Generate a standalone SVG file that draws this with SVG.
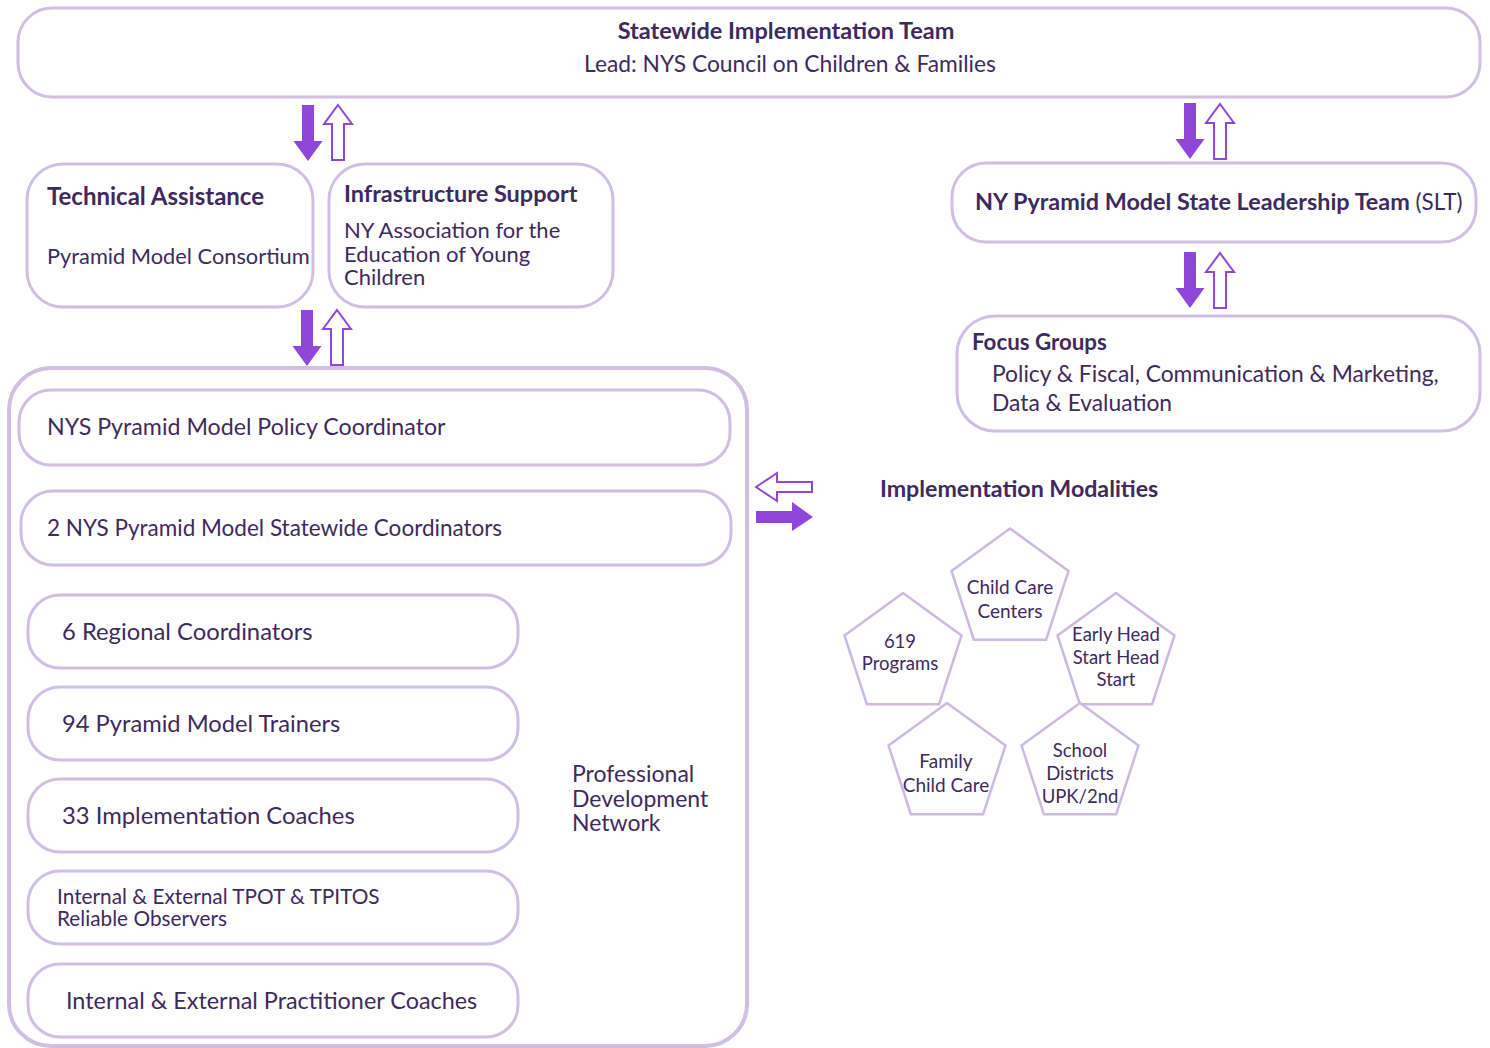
<svg xmlns="http://www.w3.org/2000/svg" xmlns:xlink="http://www.w3.org/1999/xlink" width="1490" height="1048" viewBox="0 0 1490 1048">
<style>
.box{fill:#fff;stroke:#d0bfe3;stroke-width:3}
.big{fill:#fff;stroke:#d0bfe3;stroke-width:4}
.pent{fill:#fff;stroke:#cdb9e1;stroke-width:2.5}
text{font-family:Lato,"Open Sans","Liberation Sans",sans-serif;fill:#3f2a5e}
.b{font-weight:bold;font-size:23.5px}
.r{font-size:22px}
.s{font-size:20.8px}
.p{font-size:18.5px;text-anchor:middle}
.fa{fill:#8e47d8}
.oa{fill:#fff;stroke:#8e47d8;stroke-width:2}
</style>
<defs>
<path id="down" d="M-6,0 H6 V36 H14.5 L0,56 L-14.5,36 H-6 Z"/>
<path id="up" d="M0,0 L14,19 H6 V55 H-6 V19 H-14 Z"/>
<path id="pg" d="M0,-61.5 L58.5,-19 L36.15,49.75 L-36.15,49.75 L-58.5,-19 Z"/>
</defs>
<rect width="1490" height="1048" fill="#fff"/>

<g id="statewide">
<rect class="box" x="18" y="8" width="1462" height="89" rx="34"/>
<text class="b" x="786" y="39" text-anchor="middle">Statewide Implementation Team</text>
<text class="r" x="790" y="72" text-anchor="middle" style="font-size:22.8px">Lead: NYS Council on Children &amp; Families</text>
</g>

<g id="technical-assistance">
<rect class="box" x="27" y="164" width="286" height="143" rx="36"/>
<text class="b" x="47" y="205" style="font-size:24px">Technical Assistance</text>
<text class="r" x="47" y="264" style="font-size:21.8px">Pyramid Model Consortium</text>
</g>

<g id="infrastructure-support">
<rect class="box" x="329" y="164" width="284" height="143" rx="36"/>
<text class="b" x="344" y="202">Infrastructure Support</text>
<text class="r" x="344" y="238">NY Association for the</text>
<text class="r" x="344" y="262">Education of Young</text>
<text class="r" x="344" y="285">Children</text>
</g>

<g id="slt">
<rect class="box" x="952" y="163" width="524" height="79" rx="34"/>
<text x="975" y="210" style="font-size:22.5px"><tspan font-weight="bold" style="font-size:23.4px">NY Pyramid Model State Leadership Team</tspan> (SLT)</text>
</g>

<g id="focus-groups">
<rect class="box" x="957" y="316" width="523" height="115" rx="38"/>
<text class="b" x="972" y="350" style="font-size:22.3px">Focus Groups</text>
<text class="r" x="992" y="382" style="font-size:22.8px">Policy &amp; Fiscal, Communication &amp; Marketing,</text>
<text class="r" x="992" y="411" style="font-size:22.8px">Data &amp; Evaluation</text>
</g>

<g id="pd-network">
<rect class="big" x="9" y="368" width="738" height="678" rx="42"/>
<text class="r" x="572" y="782" style="font-size:23px">Professional</text>
<text class="r" x="572" y="807" style="font-size:23px">Development</text>
<text class="r" x="572" y="831" style="font-size:23px">Network</text>
</g>

<g id="policy-coordinator">
<rect class="box" x="19" y="390" width="711" height="75" rx="32"/>
<text class="r" x="47" y="435" style="font-size:23.2px">NYS Pyramid Model Policy Coordinator</text>
</g>
<g id="statewide-coordinators">
<rect class="box" x="21" y="491" width="710" height="74" rx="32"/>
<text class="r" x="47" y="536" style="font-size:22.5px">2 NYS Pyramid Model Statewide Coordinators</text>
</g>
<g id="regional-coordinators">
<rect class="box" x="28" y="595" width="490" height="73" rx="32"/>
<text class="r" x="62" y="640" style="font-size:23.8px">6 Regional Coordinators</text>
</g>
<g id="trainers">
<rect class="box" x="28" y="687" width="490" height="73" rx="32"/>
<text class="r" x="62" y="732" style="font-size:23.7px">94 Pyramid Model Trainers</text>
</g>
<g id="implementation-coaches">
<rect class="box" x="28" y="779" width="490" height="73" rx="32"/>
<text class="r" x="62" y="824" style="font-size:23.8px">33 Implementation Coaches</text>
</g>
<g id="reliable-observers">
<rect class="box" x="28" y="871" width="490" height="73" rx="32"/>
<text class="s" x="57" y="904">Internal &amp; External TPOT &amp; TPITOS</text>
<text class="s" x="57" y="926">Reliable Observers</text>
</g>
<g id="practitioner-coaches">
<rect class="box" x="28" y="964" width="490" height="73" rx="32"/>
<text class="r" x="66" y="1009" style="font-size:23.4px">Internal &amp; External Practitioner Coaches</text>
</g>

<g id="implementation-modalities">
<text class="b" x="880" y="497" style="font-size:23.2px">Implementation Modalities</text>
</g>

<g id="child-care-centers">
<use href="#pg" class="pent" transform="translate(1010,590)"/>
<text class="p" x="1010" y="594" style="font-size:19px">Child Care</text>
<text class="p" x="1010" y="618" style="font-size:19px">Centers</text>
</g>
<g id="programs-619">
<use href="#pg" class="pent" transform="translate(903,654.5)"/>
<text class="p" x="900" y="648">619</text>
<text class="p" x="900" y="670">Programs</text>
</g>
<g id="early-head-start">
<use href="#pg" class="pent" transform="translate(1116,654.5)"/>
<text class="p" x="1116" y="641">Early Head</text>
<text class="p" x="1116" y="664">Start Head</text>
<text class="p" x="1116" y="686">Start</text>
</g>
<g id="family-child-care">
<use href="#pg" class="pent" transform="translate(947,764.5)"/>
<text class="p" x="946" y="768" style="font-size:19px">Family</text>
<text class="p" x="946" y="792" style="font-size:19px">Child Care</text>
</g>
<g id="school-districts">
<use href="#pg" class="pent" transform="translate(1080,764.5)"/>
<text class="p" x="1080" y="757">School</text>
<text class="p" x="1080" y="780">Districts</text>
<text class="p" x="1080" y="803">UPK/2nd</text>
</g>

<g id="connectors">
<use href="#down" class="fa" transform="translate(308,105)"/>
<use href="#up" class="oa" transform="translate(338,105)"/>
<use href="#down" class="fa" transform="translate(307,310)"/>
<use href="#up" class="oa" transform="translate(337,310)"/>
<use href="#down" class="fa" transform="translate(1190,103)"/>
<use href="#up" class="oa" transform="translate(1220,104)"/>
<use href="#down" class="fa" transform="translate(1190,252)"/>
<use href="#up" class="oa" transform="translate(1220,253)"/>
<path class="oa" d="M756,487 L777,473 V482 H812 V492 H777 V501 Z"/>
<path class="fa" d="M756,511 H792 V502 L813,517 L792,531 V523 H756 Z"/>
</g>
</svg>
